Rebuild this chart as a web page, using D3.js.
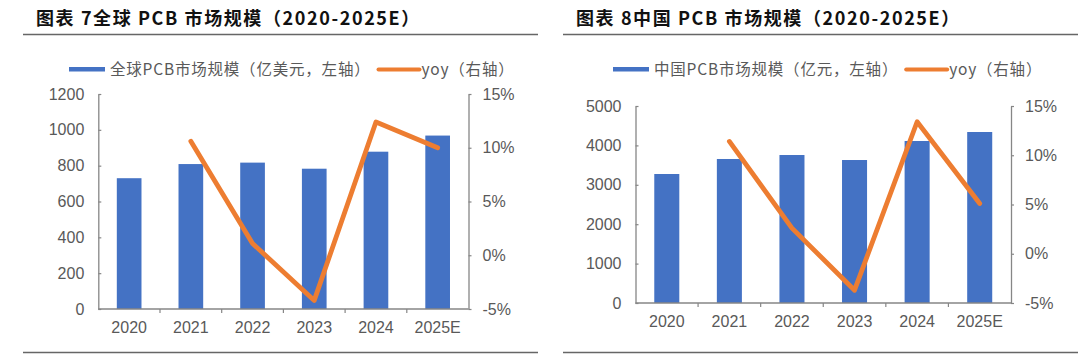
<!DOCTYPE html>
<html><head><meta charset="utf-8">
<script src="https://cdn.jsdelivr.net/npm/d3@7"></script>
<style>
html,body{margin:0;padding:0;background:#fff;}
svg{display:block;}
</style></head>
<body>
<svg id="c" width="1080" height="356"></svg>
<script>
const years = ["2020","2021","2022","2023","2024","2025E"];
const globalSize = [730, 809, 817, 783, 878, 968];
const globalYoy = [null, 10.6, 1.1, -4.2, 12.4, 10.0];
const chinaSize = [3274, 3655, 3756, 3629, 4112, 4340];
const chinaYoy = [null, 11.4, 2.6, -3.7, 13.4, 5.1];
const globalTicks = [0, 200, 400, 600, 800, 1000, 1200];
const chinaTicks = [0, 1000, 2000, 3000, 4000, 5000];
const yoyTicks = [-5, 0, 5, 10, 15];
const titles = ["图表 7全球 PCB 市场规模（2020-2025E）", "图表 8中国 PCB 市场规模（2020-2025E）"];
const barLegends = ["全球PCB市场规模（亿美元，左轴）", "中国PCB市场规模（亿元，左轴）"];
const lineLegend = "yoy（右轴）";

const svg = d3.select("#c");
const BLUE = "#4472C4", ORANGE = "#ED7D31", AXIS = "#868686", LABEL = "#595959";
const NUM_FONT = "'Liberation Sans', Arial, sans-serif";
const CJK_FONT = "'Noto Sans CJK SC', sans-serif";

function drawChart(cfg) {
  const g = svg.append("g");
  // title
  g.append("text").attr("x", cfg.ox + 36).attr("y", 25)
    .attr("font-family", CJK_FONT).attr("font-weight", "bold")
    .attr("font-size", 18).attr("letter-spacing", 1.6).attr("fill", "#111")
    .text(cfg.title);
  // separators
  g.append("line").attr("x1", cfg.ox + 23).attr("x2", cfg.ox + 538)
    .attr("y1", 34.5).attr("y2", 34.5).attr("stroke", "#666").attr("stroke-width", 1.5);
  g.append("line").attr("x1", cfg.ox + 23).attr("x2", cfg.ox + 538)
    .attr("y1", 352.5).attr("y2", 352.5).attr("stroke", "#666").attr("stroke-width", 1.5);

  const x = d3.scaleBand().domain(years).range([cfg.x0, cfg.x1])
    .paddingInner(0.6).paddingOuter(0.3);
  const y = d3.scaleLinear().domain([0, d3.max(cfg.ticks)]).range([cfg.y0, cfg.y1]);
  const y2 = d3.scaleLinear().domain([-5, 15]).range([cfg.y0, cfg.y1]);

  // bars
  g.append("g").selectAll("rect").data(years).join("rect")
    .attr("x", d => x(d)).attr("width", x.bandwidth())
    .attr("y", (d, i) => y(cfg.size[i]))
    .attr("height", (d, i) => y(0) - y(cfg.size[i]))
    .attr("fill", BLUE);

  // left axis
  const la = g.append("g").attr("transform", `translate(${cfg.x0},0)`)
    .call(d3.axisLeft(y).tickValues(cfg.ticks).tickSizeInner(-3).tickSizeOuter(0).tickPadding(14)
      .tickFormat(d => String(d)));
  // right axis
  const ra = g.append("g").attr("transform", `translate(${cfg.x1},0)`)
    .call(d3.axisRight(y2).tickValues(yoyTicks).tickSizeInner(3).tickSizeOuter(0).tickPadding(11)
      .tickFormat(d => d + "%"));
  // bottom axis: baseline with boundary ticks
  const step = x.step();
  const bx = g.append("g");
  bx.append("line").attr("x1", cfg.x0).attr("x2", cfg.x1).attr("y1", cfg.y0).attr("y2", cfg.y0)
    .attr("stroke", AXIS).attr("stroke-width", 1.3);
  bx.selectAll("line.t").data(years.slice(1)).join("line").attr("class", "t")
    .attr("x1", d => x(d) - x.paddingInner() * step / 2)
    .attr("x2", d => x(d) - x.paddingInner() * step / 2)
    .attr("y1", cfg.y0).attr("y2", cfg.y0 + 4)
    .attr("stroke", AXIS).attr("stroke-width", 1.2);
  bx.selectAll("text").data(years).join("text")
    .attr("x", d => x(d) + x.bandwidth() / 2).attr("y", cfg.y0 + 24)
    .attr("text-anchor", "middle").attr("font-family", NUM_FONT).attr("font-size", 16)
    .attr("fill", LABEL).text(d => d);

  [la, ra].forEach(a => {
    a.select(".domain").attr("stroke", AXIS).attr("stroke-width", 1.3);
    a.selectAll(".tick line").attr("stroke", AXIS).attr("stroke-width", 1.2);
    a.selectAll(".tick text").attr("font-family", NUM_FONT).attr("font-size", 16).attr("fill", LABEL);
  });

  // yoy line
  const pts = years.map((d, i) => [d, cfg.yoy[i]]).filter(p => p[1] !== null);
  g.append("path").datum(pts)
    .attr("d", d3.line().x(p => x(p[0]) + x.bandwidth() / 2).y(p => y2(p[1])))
    .attr("fill", "none").attr("stroke", ORANGE).attr("stroke-width", 4.8)
    .attr("stroke-linejoin", "round").attr("stroke-linecap", "round");

  // legend
  const lg = g.append("g");
  let lx = cfg.legX;
  const ly = cfg.legY;
  lg.append("rect").attr("x", lx).attr("y", ly - 2).attr("width", 36).attr("height", 4.5).attr("fill", BLUE);
  lx += 41;
  const t1 = lg.append("text").attr("x", lx).attr("y", ly + 5.5)
    .attr("font-family", CJK_FONT).attr("font-size", 15.5).attr("letter-spacing", 0.8)
    .attr("fill", LABEL).text(cfg.barLegend);
  lx += t1.node().getComputedTextLength() + 8;
  lg.append("line").attr("x1", lx).attr("x2", lx + 41).attr("y1", ly + 0.5).attr("y2", ly + 0.5)
    .attr("stroke", ORANGE).attr("stroke-width", 4).attr("stroke-linecap", "round");
  lx += 43;
  lg.append("text").attr("x", lx).attr("y", ly + 5.5)
    .attr("font-family", CJK_FONT).attr("font-size", 15.5).attr("letter-spacing", 0.8)
    .attr("fill", LABEL).text(lineLegend);
}

drawChart({ox: 0, title: titles[0], barLegend: barLegends[0], size: globalSize, yoy: globalYoy,
  ticks: globalTicks, x0: 98.3, x1: 468.5, y0: 309, y1: 94, legX: 69, legY: 69});
drawChart({ox: 540, title: titles[1], barLegend: barLegends[1], size: chinaSize, yoy: chinaYoy,
  ticks: chinaTicks, x0: 635.5, x1: 1011, y0: 303, y1: 106, legX: 613, legY: 69});
</script>
</body></html>
